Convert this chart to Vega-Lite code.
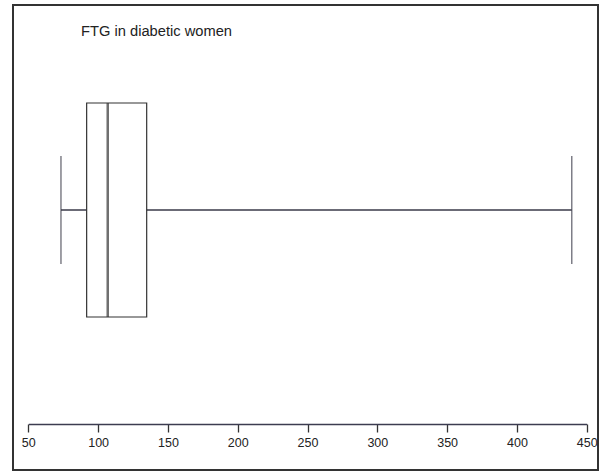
{
  "$schema": "https://vega.github.io/schema/vega-lite/v6.json",
  "width": 585,
  "height": 465,
  "autosize": {"type": "none"},
  "padding": {"left": 13, "top": 5, "right": 2, "bottom": 4},
  "background": "white",
  "config": {"view": {"stroke": "#333333", "strokeWidth": 2}},
  "title": {
    "text": "FTG in diabetic women",
    "anchor": "start",
    "frame": "group",
    "dx": 68,
    "offset": 0,
    "dy": 46,
    "baseline": "alphabetic",
    "font": "Liberation Sans",
    "fontSize": 14.7,
    "fontWeight": "normal",
    "color": "#222222"
  },
  "data": {
    "values": [
      {"group": "FTG in diabetic women", "min": 73.4, "q1": 91.8, "median": 106.9, "q3": 134.8, "max": 439.3}
    ]
  },
  "encoding": {
    "y": {
      "field": "group",
      "type": "nominal",
      "axis": null,
      "scale": {"paddingInner": 0, "paddingOuter": 0.5864, "align": 0.3904}
    }
  },
  "layer": [
    {
      "mark": {"type": "rule", "color": "#3a3a48", "strokeWidth": 1.5},
      "encoding": {
        "x": {
          "field": "min",
          "type": "quantitative",
          "title": null,
          "scale": {"domain": [39.04, 458.09], "nice": false, "zero": false},
          "axis": {
            "values": [50, 100, 150, 200, 250, 300, 350, 400, 450],
            "domain": true,
            "domainColor": "#3c3c50",
            "domainWidth": 1.5,
            "domainDash": [0, 15.3, 558.4, 100],
            "ticks": true,
            "tickSize": 8,
            "tickColor": "#333333",
            "tickWidth": 1.3,
            "labelFont": "Liberation Sans",
            "labelFontSize": 12.5,
            "labelColor": "#222222",
            "labelPadding": 4,
            "labelFlush": false,
            "labelOverlap": false,
            "offset": -46,
            "grid": false,
            "title": null
          }
        },
        "x2": {"field": "max"}
      }
    },
    {
      "mark": {"type": "bar", "fill": "white", "stroke": "#333333", "strokeWidth": 1.2, "height": {"band": 1}},
      "encoding": {
        "x": {"field": "q1", "type": "quantitative", "title": null},
        "x2": {"field": "q3"}
      }
    },
    {
      "mark": {"type": "tick", "color": "#333333", "thickness": 2.5, "size": 214, "orient": "vertical"},
      "encoding": {
        "x": {"field": "median", "type": "quantitative", "title": null}
      }
    },
    {
      "mark": {"type": "tick", "color": "#3a3a48", "thickness": 1.4, "size": 108, "orient": "vertical"},
      "encoding": {
        "x": {"field": "min", "type": "quantitative", "title": null}
      }
    },
    {
      "mark": {"type": "tick", "color": "#3a3a48", "thickness": 1.4, "size": 108, "orient": "vertical"},
      "encoding": {
        "x": {"field": "max", "type": "quantitative", "title": null}
      }
    }
  ]
}
